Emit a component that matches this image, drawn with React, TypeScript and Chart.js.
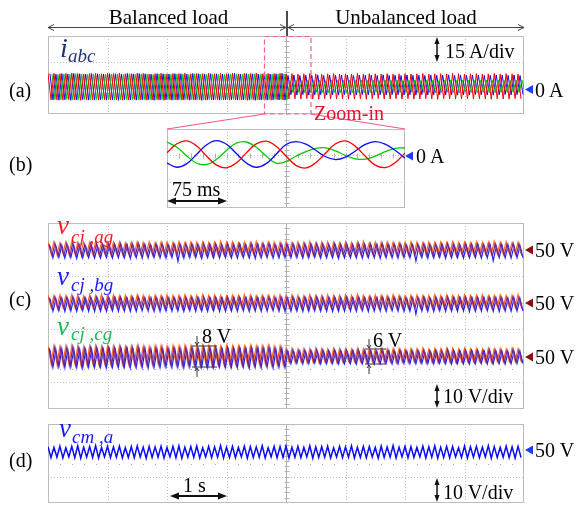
import React, { useEffect, useRef } from "react";
import { Chart, registerables } from "chart.js";

Chart.register(...registerables);

// ---------------- data ----------------
// Oscilloscope traces: one value per half period of the 10 Hz fundamental (peak, trough, peak, ...)
const STEP_S = 0.05; // seconds between successive samples
const TIME_RANGE_S = [0, 8];
const A_OFFSETS_S = { red: 0, blue: 0.0333, green: 0.0667 };
const C_OFFSETS_S = { orange: 0, purple: 0.0167, blue: 0.0333 };

// (a) three-phase currents, A (first 80 values balanced load, last 80 unbalanced)
const aRed = [
  8.3,-6.8,8.5,-6.9,8.2,-7.0,8.4,-6.7,8.6,-6.8,8.3,-7.1,8.1,-6.9,8.4,-6.8,8.5,-7.0,8.2,-6.7,
  8.4,-6.9,8.3,-6.8,8.6,-7.0,8.2,-6.9,8.3,-6.6,8.5,-6.8,8.4,-7.0,8.1,-6.9,8.3,-6.8,8.5,-7.1,
  8.2,-6.8,8.4,-6.9,8.3,-7.0,8.6,-6.7,8.2,-6.9,8.4,-6.8,8.3,-7.0,8.5,-6.9,8.2,-6.8,8.4,-6.9,
  8.3,-7.0,8.5,-6.8,8.1,-6.9,8.4,-7.1,8.3,-6.8,8.6,-6.9,8.2,-6.7,8.4,-7.0,8.3,-6.8,8.5,-6.9,
  8.1,-6.3,8.3,-6.2,8.0,-6.4,8.2,-6.1,8.4,-6.3,8.1,-6.5,7.9,-6.2,8.2,-6.3,8.3,-6.4,8.0,-6.2,
  8.2,-6.4,8.1,-6.3,8.4,-6.2,8.0,-6.5,8.3,-6.3,8.2,-6.1,8.1,-6.4,8.3,-6.3,8.0,-6.2,8.2,-6.4,
  8.3,-6.2,8.1,-6.4,8.2,-6.3,8.4,-6.1,8.0,-6.3,8.2,-6.5,8.3,-6.2,8.1,-6.3,8.4,-6.4,8.2,-6.2,
  8.0,-6.3,8.2,-6.4,8.3,-6.2,8.1,-6.3,8.2,-6.5,8.4,-6.2,8.1,-6.3,8.3,-6.4,8.2,-6.1,8.0,-6.3,
];
const aBlue = [
  8.2,-6.9,8.0,-7.0,8.3,-6.8,8.1,-7.1,8.4,-6.9,8.2,-6.7,8.0,-7.0,8.3,-6.9,8.2,-6.8,8.1,-7.0,
  8.3,-6.9,8.2,-7.1,8.0,-6.8,8.4,-6.9,8.1,-7.0,8.3,-6.8,8.2,-6.9,8.0,-7.1,8.3,-6.9,8.2,-6.8,
  8.1,-7.0,8.3,-6.9,8.2,-6.8,8.0,-7.0,8.4,-6.9,8.2,-7.1,8.1,-6.8,8.3,-6.9,8.2,-7.0,8.0,-6.9,
  8.2,-6.8,8.4,-7.0,8.1,-6.9,8.3,-6.8,8.2,-7.1,8.0,-6.9,8.3,-7.0,8.1,-6.8,8.2,-6.9,8.4,-7.0,
  7.3,-3.9,7.5,-4.0,7.2,-3.8,7.4,-4.1,7.3,-3.9,7.6,-3.8,7.2,-4.0,7.4,-3.9,7.3,-4.1,7.5,-3.8,
  7.4,-3.9,7.2,-4.0,7.5,-3.8,7.3,-3.9,7.4,-4.1,7.2,-3.9,7.6,-4.0,7.3,-3.8,7.4,-3.9,7.2,-4.0,
  7.5,-3.9,7.3,-4.1,7.4,-3.8,7.2,-4.0,7.5,-3.9,7.3,-3.8,7.4,-4.0,7.6,-3.9,7.2,-4.1,7.4,-3.9,
  7.3,-4.0,7.5,-3.8,7.4,-3.9,7.2,-4.0,7.3,-4.1,7.5,-3.9,7.4,-3.8,7.3,-4.0,7.5,-3.9,7.2,-3.8,
];
const aGreen = [
  8.0,-6.7,7.8,-6.8,8.1,-6.6,7.9,-6.9,8.2,-6.7,8.0,-6.5,7.8,-6.8,8.1,-6.7,8.0,-6.6,7.9,-6.8,
  8.1,-6.7,8.0,-6.9,7.8,-6.6,8.2,-6.7,7.9,-6.8,8.1,-6.6,8.0,-6.7,7.8,-6.9,8.1,-6.7,8.0,-6.6,
  7.9,-6.8,8.1,-6.7,8.0,-6.6,7.8,-6.8,8.2,-6.7,8.0,-6.9,7.9,-6.6,8.1,-6.7,8.0,-6.8,7.8,-6.7,
  8.0,-6.6,8.2,-6.8,7.9,-6.7,8.1,-6.6,8.0,-6.9,7.8,-6.7,8.1,-6.8,7.9,-6.6,8.0,-6.7,8.2,-6.8,
  4.4,-2.6,4.6,-2.5,4.3,-2.7,4.5,-2.6,4.4,-2.4,4.6,-2.6,4.2,-2.7,4.5,-2.5,4.4,-2.6,4.3,-2.7,
  4.5,-2.6,4.3,-2.5,4.6,-2.7,4.4,-2.6,4.5,-2.4,4.3,-2.6,4.6,-2.7,4.4,-2.5,4.5,-2.6,4.3,-2.7,
  4.4,-2.5,4.6,-2.7,4.3,-2.6,4.5,-2.5,4.4,-2.7,4.2,-2.6,4.5,-2.4,4.6,-2.6,4.3,-2.7,4.4,-2.5,
  4.5,-2.6,4.3,-2.7,4.4,-2.5,4.6,-2.6,4.4,-2.7,4.5,-2.5,4.3,-2.6,4.4,-2.4,4.6,-2.6,4.5,-2.7,
];

// (b) zoom-in of the currents, ms and A
const bTimesMs = [0,12.5,25,37.5,50,62.5,75,87.5,100,112.5,125,137.5,150,162.5,175,187.5,200,212.5,225,237.5,250,262.5,275,287.5,300];
const bRed = [1.5,6.6,8.2,5.3,-0.5,-5.6,-7.1,-4.3,1.4,6.5,8.1,5.2,-0.4,-5.7,-7.2,-4.2,1.3,6.6,8.2,5.1,-0.5,-5.6,-7.0,-4.2,1.4];
const bBlue = [-4.4,-6.8,-4.7,0.6,6.0,8.4,6.3,1.0,-4.4,-6.8,-4.7,0.6,6.2,7.8,6.4,2.9,-0.8,-2.4,-1.0,2.5,6.2,7.8,6.4,2.9,-1.6];
const bGreen = [7.6,4.6,-0.4,-4.5,-5.2,-2.2,2.8,6.9,7.6,4.6,-0.4,-4.5,-3.5,-0.5,2.1,4.0,4.2,2.5,-0.1,-2.0,-2.2,-0.5,2.1,4.0,4.2];

// (c) capacitor voltages, V
const cAgOrange = [
  52.7,48.6,52.9,48.4,52.6,48.7,53.0,48.5,52.8,48.6,52.5,48.8,52.9,48.5,52.7,48.4,53.1,48.6,52.6,48.7,
  52.8,48.5,52.7,48.6,52.9,48.4,52.6,48.7,52.8,48.5,53.0,48.6,52.7,48.8,52.9,48.5,52.6,48.6,52.8,48.4,
  52.9,48.6,52.7,48.5,53.0,48.7,52.6,48.6,52.8,48.4,52.7,48.6,52.9,48.5,52.6,48.7,52.8,48.6,53.1,48.5,
  52.7,48.4,52.9,48.6,52.6,48.5,52.8,48.7,52.7,48.6,53.0,48.5,52.6,48.6,52.9,48.4,52.7,48.6,52.8,48.5,
  52.8,48.5,52.6,48.7,52.9,48.6,52.7,48.4,53.0,48.6,52.6,48.5,52.8,48.7,52.9,48.6,52.7,48.5,52.6,48.6,
  52.9,48.4,52.7,48.6,52.8,48.5,53.1,48.7,52.6,48.6,52.8,48.5,52.7,48.4,52.9,48.6,52.8,48.7,52.6,48.5,
  52.7,48.6,53.0,48.5,52.8,48.6,52.6,48.4,52.9,48.7,52.7,48.6,52.8,48.5,52.6,48.6,53.0,48.5,52.7,48.6,
  52.8,48.7,52.6,48.5,52.9,48.6,52.7,48.5,52.8,48.4,53.1,48.6,52.7,48.5,52.9,48.7,52.6,48.6,52.8,48.5,
];
const cAgBlue = [
  51.4,46.9,51.2,47.1,51.5,46.8,51.3,47.0,51.6,46.7,51.4,46.9,51.2,47.0,51.5,46.8,51.3,46.9,51.4,47.1,
  51.5,46.8,51.3,47.0,51.4,46.9,51.6,46.7,51.2,47.0,51.4,46.8,51.5,46.9,51.3,47.1,51.4,46.9,51.2,46.8,
  51.3,47.0,51.5,45.6,51.4,46.8,51.2,47.0,51.6,46.9,51.4,46.7,51.3,47.0,51.5,46.9,51.4,46.8,51.3,47.0,
  51.4,46.9,51.2,46.8,51.5,47.0,51.3,46.9,51.4,46.7,51.6,46.9,51.3,47.0,51.4,46.8,51.2,46.9,51.5,47.0,
  51.3,46.9,51.5,47.0,51.2,46.8,51.4,46.9,51.6,47.1,51.3,46.8,51.4,46.9,51.2,47.0,51.5,46.7,51.3,46.9,
  51.4,47.0,51.2,46.9,51.5,46.8,51.3,47.0,51.4,46.9,51.6,46.7,51.2,47.0,51.4,46.9,51.3,46.8,51.5,47.0,
  51.2,46.9,51.4,45.7,51.3,47.0,51.5,46.8,51.4,46.9,51.2,47.1,51.6,46.8,51.3,46.9,51.4,47.0,51.2,46.8,
  51.5,46.9,51.3,47.0,51.4,46.8,51.2,46.9,51.5,45.8,51.3,47.0,51.4,46.9,51.6,46.8,51.2,47.0,51.4,46.9,
];
const cAgPurple = [
  52.1,47.8,52.3,47.6,52.0,47.9,52.2,47.7,52.4,47.8,52.1,47.6,51.9,47.8,52.2,47.9,52.3,47.7,52.0,47.8,
  52.2,47.7,52.1,47.9,52.3,47.6,52.0,47.8,52.2,47.7,52.4,47.9,52.1,47.8,51.9,47.6,52.2,47.8,52.3,47.7,
  52.0,47.9,52.2,47.8,52.1,47.6,52.3,47.8,52.2,47.9,52.0,47.7,52.4,47.8,52.1,47.6,52.2,47.9,52.0,47.8,
  52.3,47.7,52.1,47.8,52.2,47.9,52.0,47.6,52.3,47.8,52.1,47.7,52.2,47.9,52.4,47.8,52.0,47.7,52.2,47.8,
  52.1,47.8,52.3,47.7,52.0,47.9,52.2,47.6,52.1,47.8,52.4,47.7,52.2,47.9,52.0,47.8,52.3,47.6,52.1,47.8,
  52.2,47.9,52.0,47.7,52.3,47.8,52.1,47.6,52.2,47.8,52.0,47.9,52.4,47.7,52.1,47.8,52.2,47.6,52.3,47.8,
  52.0,47.7,52.2,47.9,52.1,47.8,52.3,47.6,52.0,47.8,52.2,47.7,52.1,47.9,52.4,47.8,52.2,47.6,52.0,47.8,
  52.3,47.8,52.1,47.7,52.2,47.9,52.0,47.8,52.3,47.6,52.1,47.8,52.2,47.7,52.0,47.9,52.4,47.8,52.1,47.7,
];
const cBgOrange = [
  52.8,48.5,52.6,48.7,52.9,48.4,52.7,48.6,53.0,48.5,52.8,48.3,52.6,48.6,52.9,48.5,52.7,48.7,53.1,48.4,
  52.8,48.6,52.9,48.5,52.6,48.4,52.8,48.7,52.7,48.5,53.0,48.6,52.8,48.4,52.6,48.5,52.9,48.7,52.7,48.6,
  53.0,48.5,52.7,48.4,52.8,48.6,52.9,48.5,52.6,48.7,52.8,48.4,53.1,48.6,52.7,48.5,52.9,48.4,52.8,48.6,
  52.6,48.7,52.9,48.5,52.7,48.6,53.0,48.4,52.8,48.5,52.6,48.6,52.9,48.7,52.8,48.5,52.7,48.4,53.0,48.6,
  52.7,48.5,52.9,48.6,52.8,48.4,52.6,48.7,53.0,48.5,52.8,48.6,52.7,48.4,52.9,48.5,52.6,48.6,52.8,48.7,
  52.9,48.4,52.7,48.6,53.1,48.5,52.8,48.7,52.6,48.5,52.9,48.4,52.8,48.6,52.7,48.5,53.0,48.6,52.8,48.4,
  52.6,48.6,52.8,48.5,52.9,48.7,52.7,48.4,52.8,48.6,53.0,48.5,52.6,48.6,52.9,48.4,52.7,48.7,52.8,48.5,
  52.9,48.6,52.7,48.5,52.8,48.4,53.0,48.6,52.6,48.5,52.8,48.7,52.9,48.4,52.7,48.6,52.8,48.5,53.1,48.6,
];
const cBgBlue = [
  51.5,46.8,51.3,47.0,51.6,46.7,51.4,46.9,51.5,46.8,51.2,47.0,51.6,46.8,51.4,46.7,51.5,46.9,51.3,46.8,
  51.4,47.0,51.6,46.8,51.3,46.9,51.5,46.7,51.4,46.8,51.2,47.0,51.5,46.9,51.6,46.8,51.3,46.7,51.5,46.9,
  51.6,46.8,51.4,46.9,51.5,46.7,51.3,47.0,51.4,46.8,51.6,46.9,51.2,46.8,51.5,47.0,51.4,46.7,51.5,46.8,
  51.3,46.9,51.5,46.8,51.4,47.0,51.6,46.7,51.3,46.9,51.5,46.8,51.4,46.9,51.2,47.0,51.5,46.8,51.6,46.7,
  51.4,46.8,51.5,46.9,51.3,46.7,51.6,46.8,51.4,47.0,51.5,46.9,51.2,46.8,51.5,46.7,51.4,46.9,51.3,46.8,
  51.6,46.9,51.4,46.8,51.5,47.0,51.3,46.7,51.4,46.8,51.6,46.9,51.5,46.8,51.3,47.0,51.4,46.9,51.5,46.7,
  51.3,46.8,51.5,45.7,51.4,46.9,51.6,46.8,51.3,46.7,51.5,47.0,51.4,46.8,51.2,46.9,51.5,46.8,51.6,46.9,
  51.4,46.7,51.5,46.8,51.3,46.9,51.6,47.0,51.4,46.8,51.5,46.7,51.3,46.9,51.4,46.8,51.6,46.9,51.5,46.8,
];
const cBgPurple = [
  52.0,47.9,52.2,47.7,51.9,48.0,52.1,47.8,52.3,47.9,52.0,47.7,51.8,47.9,52.1,48.0,52.2,47.8,51.9,47.9,
  52.1,47.8,52.0,48.0,52.2,47.7,51.9,47.9,52.1,47.8,52.3,48.0,52.0,47.9,51.8,47.7,52.1,47.9,52.2,47.8,
  51.9,48.0,52.1,47.9,52.0,47.7,52.2,47.9,52.1,48.0,51.9,47.8,52.3,47.9,52.0,47.7,52.1,48.0,51.9,47.9,
  52.2,47.8,52.0,47.9,52.1,48.0,51.9,47.7,52.2,47.9,52.0,47.8,52.1,48.0,52.3,47.9,51.9,47.8,52.1,47.9,
  52.0,47.9,52.2,47.8,51.9,48.0,52.1,47.7,52.0,47.9,52.3,47.8,52.1,48.0,51.9,47.9,52.2,47.7,52.0,47.9,
  52.1,48.0,51.9,47.8,52.2,47.9,52.0,47.7,52.1,47.9,51.9,48.0,52.3,47.8,52.0,47.9,52.1,47.7,52.2,47.9,
  51.9,47.8,52.1,48.0,52.0,47.9,52.2,47.7,51.9,47.9,52.1,47.8,52.0,48.0,52.3,47.9,52.1,47.7,51.9,47.9,
  52.2,47.9,52.0,47.8,52.1,48.0,51.9,47.9,52.2,47.7,52.0,47.9,52.1,47.8,51.9,48.0,52.3,47.9,52.0,47.8,
];
const cCgOrange = [
  53.6,47.3,53.8,47.1,53.5,47.4,53.7,47.2,53.9,47.3,53.6,47.0,53.4,47.3,53.7,47.4,53.8,47.2,53.5,47.3,
  53.7,47.2,53.6,47.4,53.8,47.1,53.5,47.3,53.7,47.2,53.9,47.4,53.6,47.3,53.4,47.1,53.7,47.3,53.8,47.2,
  53.5,47.4,53.7,47.3,53.6,47.1,53.8,47.3,53.7,47.4,53.5,47.2,53.9,47.3,53.6,47.1,53.7,47.4,53.5,47.3,
  53.8,47.2,53.6,47.3,53.7,47.4,53.5,47.1,53.8,47.3,53.6,47.2,53.7,47.4,53.9,47.3,53.5,47.2,53.7,47.3,
  52.6,48.0,52.8,47.9,52.5,48.1,52.7,47.8,52.6,48.0,52.9,47.9,52.7,48.1,52.5,48.0,52.8,47.8,52.6,48.0,
  52.7,48.1,52.5,47.9,52.8,48.0,52.6,47.8,52.7,48.0,52.5,48.1,52.9,47.9,52.6,48.0,52.7,47.8,52.8,48.0,
  52.5,47.9,52.7,48.1,52.6,48.0,52.8,47.8,52.5,48.0,52.7,47.9,52.6,48.1,52.9,48.0,52.7,47.8,52.5,48.0,
  52.8,48.0,52.6,47.9,52.7,48.1,52.5,48.0,52.8,47.8,52.6,48.0,52.7,47.9,52.5,48.1,52.9,48.0,52.6,47.9,
];
const cCgBlue = [
  52.3,45.7,52.1,45.9,52.4,45.6,52.2,45.8,52.5,45.7,52.3,45.5,52.1,45.8,52.4,45.7,52.2,45.9,52.3,45.6,
  52.4,45.8,52.2,45.7,52.3,45.9,52.5,45.6,52.1,45.8,52.3,45.7,52.4,45.5,52.2,45.8,52.3,45.7,52.1,45.9,
  52.2,45.7,52.4,45.8,52.3,45.6,52.1,45.9,52.5,45.7,52.3,45.8,52.2,45.6,52.4,45.7,52.3,45.9,52.2,45.7,
  52.3,45.8,52.1,45.7,52.4,45.9,52.2,45.6,52.3,45.8,52.5,45.7,52.2,45.9,52.3,45.6,52.1,45.8,52.4,45.7,
  51.5,47.1,51.3,47.2,51.6,47.0,51.4,47.1,51.5,47.3,51.3,47.0,51.6,47.1,51.4,47.2,51.5,47.0,51.3,47.1,
  51.4,47.2,51.6,47.0,51.3,47.1,51.5,47.2,51.4,47.0,51.2,47.1,51.5,47.3,51.6,47.0,51.3,47.1,51.5,47.2,
  51.6,47.1,51.4,47.0,51.5,47.2,51.3,47.1,51.4,47.0,51.6,47.2,51.2,47.1,51.5,47.0,51.4,47.2,51.5,47.1,
  51.3,47.0,51.5,47.1,51.4,47.2,51.6,47.0,51.3,47.1,51.5,47.2,51.4,47.0,51.2,47.1,51.5,47.2,51.6,47.1,
];
const cCgPurple = [
  53.0,46.4,53.2,46.2,52.9,46.5,53.1,46.3,53.3,46.4,53.0,46.1,52.8,46.4,53.1,46.5,53.2,46.3,52.9,46.4,
  53.1,46.3,53.0,46.5,53.2,46.2,52.9,46.4,53.1,46.3,53.3,46.5,53.0,46.4,52.8,46.2,53.1,46.4,53.2,46.3,
  52.9,46.5,53.1,46.4,53.0,46.2,53.2,46.4,53.1,46.5,52.9,46.3,53.3,46.4,53.0,46.2,53.1,46.5,52.9,46.4,
  53.2,46.3,53.0,46.4,53.1,46.5,52.9,46.2,53.2,46.4,53.0,46.3,53.1,46.5,53.3,46.4,52.9,46.3,53.1,46.4,
  52.1,47.6,52.3,47.5,52.0,47.7,52.2,47.5,52.1,47.6,52.4,47.4,52.2,47.7,52.0,47.6,52.3,47.5,52.1,47.6,
  52.2,47.7,52.0,47.5,52.3,47.6,52.1,47.4,52.2,47.6,52.0,47.7,52.4,47.5,52.1,47.6,52.2,47.4,52.3,47.6,
  52.0,47.5,52.2,47.7,52.1,47.6,52.3,47.4,52.0,47.6,52.2,47.5,52.1,47.7,52.4,47.6,52.2,47.4,52.0,47.6,
  52.3,47.6,52.1,47.5,52.2,47.7,52.0,47.6,52.3,47.4,52.1,47.6,52.2,47.5,52.0,47.7,52.4,47.6,52.1,47.5,
];

// (d) common-mode voltage, V
const dBlue = [
  51.4,47.2,51.1,47.4,51.6,47.1,51.0,47.5,51.5,47.2,51.7,47.0,51.2,47.4,51.4,47.3,51.8,47.1,51.1,47.5,
  51.5,47.2,51.3,47.4,51.6,47.1,51.0,47.3,51.4,47.2,51.7,47.5,51.2,47.0,51.5,47.3,51.3,47.4,51.6,47.1,
  51.1,47.5,51.5,47.2,51.7,47.0,51.2,47.4,51.4,47.3,51.6,47.1,51.0,47.5,51.5,47.2,51.3,47.4,51.8,47.1,
  51.2,47.3,51.5,47.2,51.1,47.5,51.6,47.0,51.4,47.3,51.3,47.4,51.7,47.1,51.0,47.5,51.5,47.2,51.4,47.3,
  51.6,47.1,51.2,47.4,51.5,47.2,51.1,47.5,51.7,47.0,51.3,47.3,51.4,47.4,51.6,47.1,51.0,47.5,51.5,47.2,
  51.3,47.4,51.7,47.1,51.2,47.3,51.5,47.2,51.4,47.5,51.1,47.0,51.6,47.3,51.3,47.4,51.8,47.1,51.2,47.5,
  51.5,47.2,51.4,47.3,51.1,47.5,51.6,47.1,51.3,47.4,51.7,47.0,51.2,47.3,51.5,47.2,51.4,47.5,51.0,47.3,
  51.6,47.1,51.3,47.4,51.5,47.2,51.2,47.5,51.7,47.0,51.4,47.3,51.1,47.4,51.6,47.2,51.3,47.1,51.5,47.3,
];

// ---------------- helpers ----------------
const trace = (values: number[], offset: number) =>
  values.map((y, i) => ({ x: offset + i * STEP_S, y }));
const traceAt = (values: number[], times: number[]) =>
  values.map((y, i) => ({ x: times[i], y }));

const SERIF = '"Liberation Serif","Times New Roman",serif';
const PAD = 2;

const scopeGrid = {
  id: "scopeGrid",
  beforeDatasetsDraw(chart: any, _args: any, o: any) {
    const { ctx, chartArea: a } = chart;
    const L = a.left, T = a.top, W = a.right - a.left, H = a.bottom - a.top;
    const px = (v: number) => Math.round(v) + 0.5;
    const seg = (x1: number, y1: number, x2: number, y2: number) => {
      ctx.beginPath(); ctx.moveTo(x1, y1); ctx.lineTo(x2, y2); ctx.stroke();
    };
    ctx.save();
    ctx.lineWidth = 1;
    ctx.strokeStyle = "#c4c4c4";
    ctx.setLineDash([1, 2]);
    for (let i = 1; i < o.xDivs; i++) {
      if (2 * i === o.xDivs) continue;
      const x = px(L + (i * W) / o.xDivs);
      seg(x, T, x, T + H);
    }
    for (let j = 1; j < o.yDivs; j++) {
      const y = px(T + (j * H) / o.yDivs);
      seg(L, y, L + W, y);
    }
    ctx.setLineDash([]);
    const cx = px(L + W / 2);
    ctx.strokeStyle = "#b0b0b0";
    seg(cx, T, cx, T + H);
    const nY = o.yDivs * 5;
    for (let k = 1; k < nY; k++) {
      const y = px(T + (k * H) / nY);
      seg(cx - 2, y, cx + 3, y);
    }
    const nX = o.xDivs * 5;
    if (o.centerRowDiv != null) {
      const cy = px(T + (o.centerRowDiv * H) / o.yDivs);
      for (let k = 1; k < nX; k++) {
        const x = px(L + (k * W) / nX);
        seg(x, cy - 2, x, cy + 3);
      }
    }
    ctx.fillStyle = "#a8a8a8";
    for (const r of o.dotRowsDiv || []) {
      const y = Math.round(T + (r * H) / o.yDivs);
      for (let k = 1; k < nX; k++) {
        if (k % 5 === 0) continue;
        const x = Math.round(L + (k * W) / nX);
        ctx.fillRect(x, y, 1, 1);
      }
    }
    ctx.strokeStyle = "#bcbcbc";
    ctx.strokeRect(px(L), px(T), Math.round(W) - 1, Math.round(H) - 1);
    ctx.restore();
  },
};

type Box = { x: number; y: number; w: number; h: number };

function Scope(props: {
  box: Box;
  xRange: number[];
  xDivs: number;
  yDivs: number;
  axes: Record<string, number[]>;
  datasets: any[];
  centerRowDiv?: number;
  dotRowsDiv?: number[];
}) {
  const ref = useRef<HTMLCanvasElement>(null);
  const { box } = props;
  useEffect(() => {
    const scales: any = {
      x: { type: "linear", display: false, min: props.xRange[0], max: props.xRange[1] },
    };
    for (const id of Object.keys(props.axes)) {
      scales[id] = { type: "linear", display: false, min: props.axes[id][0], max: props.axes[id][1] };
    }
    const chart = new Chart(ref.current as HTMLCanvasElement, {
      type: "line",
      data: { datasets: props.datasets },
      options: {
        animation: false,
        responsive: false,
        events: [],
        layout: { padding: PAD },
        elements: { point: { radius: 0 } },
        plugins: {
          legend: { display: false },
          tooltip: { enabled: false },
          scopeGrid: {
            xDivs: props.xDivs,
            yDivs: props.yDivs,
            centerRowDiv: props.centerRowDiv,
            dotRowsDiv: props.dotRowsDiv,
          },
        } as any,
        scales,
      },
      plugins: [scopeGrid as any],
    });
    return () => chart.destroy();
  }, []);
  return (
    <canvas
      ref={ref}
      width={box.w + 2 * PAD}
      height={box.h + 2 * PAD}
      style={{ position: "absolute", left: box.x - PAD, top: box.y - PAD, width: box.w + 2 * PAD, height: box.h + 2 * PAD }}
    />
  );
}

const line = (data: any[], color: string, width = 1, yAxisID = "y", tension = 0) => ({
  data,
  borderColor: color,
  borderWidth: width,
  pointRadius: 0,
  fill: false,
  tension,
  yAxisID,
  parsing: false,
  normalized: true,
});

function Txt(p: { x: number; y: number; size?: number; color?: string; italic?: boolean; center?: boolean; children: any }) {
  const size = p.size ?? 20;
  return (
    <div
      style={{
        position: "absolute",
        left: p.x,
        top: p.y,
        fontFamily: SERIF,
        fontSize: size,
        lineHeight: `${size}px`,
        color: p.color ?? "#000",
        fontStyle: p.italic ? "italic" : "normal",
        whiteSpace: "nowrap",
        transform: p.center ? "translateX(-50%)" : undefined,
      }}
    >
      {p.children}
    </div>
  );
}

// main glyph placed by its baseline (bx, by); subscript by its baseline (sx, sy)
function MathLabel(p: { bx: number; by: number; sx: number; sy: number; main: string; sub: string; color: string; size?: number; subSize?: number }) {
  const size = p.size ?? 27;
  const subSize = p.subSize ?? 19;
  return (
    <>
      <Txt x={p.bx} y={p.by - 0.8375 * size} size={size} color={p.color} italic>{p.main}</Txt>
      <Txt x={p.sx} y={p.sy - 0.8375 * subSize} size={subSize} color={p.color} italic>{p.sub}</Txt>
    </>
  );
}

const BOX_A: Box = { x: 48, y: 36, w: 476, h: 78 };
const BOX_B: Box = { x: 167, y: 129, w: 238, h: 79 };
const BOX_C: Box = { x: 48, y: 223, w: 476, h: 186 };
const BOX_D: Box = { x: 48, y: 424, w: 476, h: 79 };

const RED = "#ff0000", GREEN = "#00cc00", BLUE = "#0a0aff";
const ORANGE = "#ff6a1c", PURPLE = "#74288f", CBLUE = "#2020ff";

function VArrow({ x, y1, y2 }: { x: number; y1: number; y2: number }) {
  return (
    <g>
      <line x1={x} y1={y1 + 5} x2={x} y2={y2 - 5} stroke="#111" strokeWidth={1.5} />
      <polygon points={`${x},${y1} ${x - 2.5},${y1 + 7} ${x + 2.5},${y1 + 7}`} fill="#111" />
      <polygon points={`${x},${y2} ${x - 2.5},${y2 - 7} ${x + 2.5},${y2 - 7}`} fill="#111" />
    </g>
  );
}
function HArrow({ x1, x2, y }: { x1: number; x2: number; y: number }) {
  return (
    <g>
      <line x1={x1 + 6} y1={y} x2={x2 - 6} y2={y} stroke="#111" strokeWidth={2} />
      <polygon points={`${x1},${y} ${x1 + 9},${y - 3.5} ${x1 + 9},${y + 3.5}`} fill="#111" />
      <polygon points={`${x2},${y} ${x2 - 9},${y - 3.5} ${x2 - 9},${y + 3.5}`} fill="#111" />
    </g>
  );
}
function Marker({ x, y, color }: { x: number; y: number; color: string }) {
  return <polygon points={`${x},${y} ${x + 8},${y - 4.5} ${x + 8},${y + 4.5}`} fill={color} />;
}
function Span({ x, y1, y2, w1, w2 }: { x: number; y1: number; y2: number; w1: number; w2: number }) {
  return (
    <g stroke="#333" strokeWidth={1} fill="none">
      <line x1={w1} y1={y1} x2={w2} y2={y1} />
      <line x1={w1} y1={y2} x2={w2} y2={y2} />
      <line x1={x} y1={y1 - 10} x2={x} y2={y1 - 1} />
      <polyline points={`${x - 2},${y1 - 4} ${x},${y1 - 1} ${x + 2},${y1 - 4}`} />
      <line x1={x} y1={y2 + 10} x2={x} y2={y2 + 1} />
      <polyline points={`${x - 2},${y2 + 4} ${x},${y2 + 1} ${x + 2},${y2 + 4}`} />
    </g>
  );
}

export default function App() {
  const aSets = [
    line(trace(aRed, A_OFFSETS_S.red), RED),
    line(trace(aGreen, A_OFFSETS_S.green), GREEN),
    line(trace(aBlue, A_OFFSETS_S.blue), BLUE),
  ];
  const bSets = [
    line(traceAt(bRed, bTimesMs), RED, 1.3, "y", 0.4),
    line(traceAt(bBlue, bTimesMs), BLUE, 1.3, "y", 0.4),
    line(traceAt(bGreen, bTimesMs), GREEN, 1.3, "y", 0.4),
  ];
  const cSets = [
    line(trace(cAgPurple, C_OFFSETS_S.purple), PURPLE, 1.2, "yag"),
    line(trace(cAgOrange, C_OFFSETS_S.orange), ORANGE, 1.2, "yag"),
    line(trace(cAgBlue, C_OFFSETS_S.blue), CBLUE, 1.2, "yag"),
    line(trace(cBgPurple, C_OFFSETS_S.purple), PURPLE, 1.2, "ybg"),
    line(trace(cBgOrange, C_OFFSETS_S.orange), ORANGE, 1.2, "ybg"),
    line(trace(cBgBlue, C_OFFSETS_S.blue), CBLUE, 1.2, "ybg"),
    line(trace(cCgPurple, C_OFFSETS_S.purple), PURPLE, 1.2, "ycg"),
    line(trace(cCgOrange, C_OFFSETS_S.orange), ORANGE, 1.2, "ycg"),
    line(trace(cCgBlue, C_OFFSETS_S.blue), CBLUE, 1.2, "ycg"),
  ];
  const dSets = [line(trace(dBlue, 0), BLUE, 1.5)];

  return (
    <div style={{ position: "absolute", left: 0, top: 0, width: 577, height: 505, overflow: "hidden", background: "#fff" }}>
      <Scope box={BOX_A} xRange={TIME_RANGE_S} xDivs={8} yDivs={3} axes={{ y: [-15, 30] }} datasets={aSets} />
      <Scope box={BOX_B} xRange={[0, 300]} xDivs={4} yDivs={3} axes={{ y: [-30, 15] }} datasets={bSets} centerRowDiv={1} />
      <Scope
        box={BOX_C}
        xRange={TIME_RANGE_S}
        xDivs={8}
        yDivs={7}
        axes={{ yag: [-10, 60], ybg: [10, 80], ycg: [30, 100] }}
        datasets={cSets}
        dotRowsDiv={[1.5, 3.5, 5.5]}
      />
      <Scope box={BOX_D} xRange={TIME_RANGE_S} xDivs={8} yDivs={3} axes={{ y: [30, 60] }} datasets={dSets} dotRowsDiv={[1.5]} />

      <svg width={577} height={505} style={{ position: "absolute", left: 0, top: 0, pointerEvents: "none" }}>
        <g stroke="#444" strokeWidth={1} fill="none">
          <line x1={48} y1={27.5} x2={286} y2={27.5} />
          <polyline points="54,24.5 48,27.5 54,30.5" />
          <polyline points="280,24.5 286,27.5 280,30.5" />
          <line x1={288} y1={27.5} x2={524} y2={27.5} />
          <polyline points="294,24.5 288,27.5 294,30.5" />
          <polyline points="518,24.5 524,27.5 518,30.5" />
        </g>
        <line x1={287} y1={11} x2={287} y2={36} stroke="#111" strokeWidth={1.5} />

        <rect x={264.5} y={36.5} width={46.5} height={77.5} fill="none" stroke="#ff5a8f" strokeWidth={1.2} strokeDasharray="5 3" />
        <line x1={264.5} y1={114} x2={167} y2={129} stroke="#ff4f86" strokeWidth={1} />
        <line x1={311} y1={114} x2={405} y2={129} stroke="#ff4f86" strokeWidth={1} />

        <VArrow x={437} y1={37} y2={62} />
        <VArrow x={437} y1={384} y2={408} />
        <VArrow x={437} y1={478} y2={502} />
        <HArrow x1={167} x2={227} y={201} />
        <HArrow x1={170} x2={227} y={496} />

        <Marker x={525} y={89.5} color="#1a3cff" />
        <Marker x={405} y={156} color="#1a3cff" />
        <Marker x={525} y={250} color="#8b1010" />
        <Marker x={525} y={303} color="#8b1010" />
        <Marker x={525} y={357} color="#8b1010" />
        <Marker x={525} y={450} color="#1a3cff" />

        <Span x={197} y1={346} y2={367} w1={192} w2={217} />
        <Span x={369} y1={349} y2={364} w1={365} w2={386} />
      </svg>

      <Txt x={168.5} y={7} size={21} center>Balanced load</Txt>
      <Txt x={406} y={7} size={21} center>Unbalanced load</Txt>

      <Txt x={9} y={80}>(a)</Txt>
      <Txt x={9} y={154}>(b)</Txt>
      <Txt x={9} y={289}>(c)</Txt>
      <Txt x={9} y={450}>(d)</Txt>

      <MathLabel bx={60} by={57} sx={68} sy={62} main="i" sub="abc" color="#1f3476" size={28} />
      <Txt x={445} y={41}>15 A/div</Txt>
      <Txt x={535} y={79.5}>0 A</Txt>
      <Txt x={314} y={103} color="#e8102a">Zoom-in</Txt>

      <Txt x={416} y={146}>0 A</Txt>
      <Txt x={172} y={179}>75 ms</Txt>

      <MathLabel bx={57} by={235} sx={71} sy={243} main="v" sub="cj ,ag" color="#ff1a1a" />
      <MathLabel bx={57} by={286} sx={71} sy={291} main="v" sub="cj ,bg" color="#1a1aff" />
      <MathLabel bx={57} by={336} sx={71} sy={340} main="v" sub="cj ,cg" color="#1db954" />
      <Txt x={535} y={240}>50 V</Txt>
      <Txt x={535} y={293}>50 V</Txt>
      <Txt x={535} y={347}>50 V</Txt>
      <Txt x={202} y={326}>8 V</Txt>
      <Txt x={373} y={330}>6 V</Txt>
      <Txt x={443} y={386}>10 V/div</Txt>

      <MathLabel bx={59} by={438} sx={72} sy={443} main="v" sub="cm ,a" color="#1a1aff" />
      <Txt x={535} y={440}>50 V</Txt>
      <Txt x={183} y={475}>1 s</Txt>
      <Txt x={443} y={482}>10 V/div</Txt>
    </div>
  );
}
